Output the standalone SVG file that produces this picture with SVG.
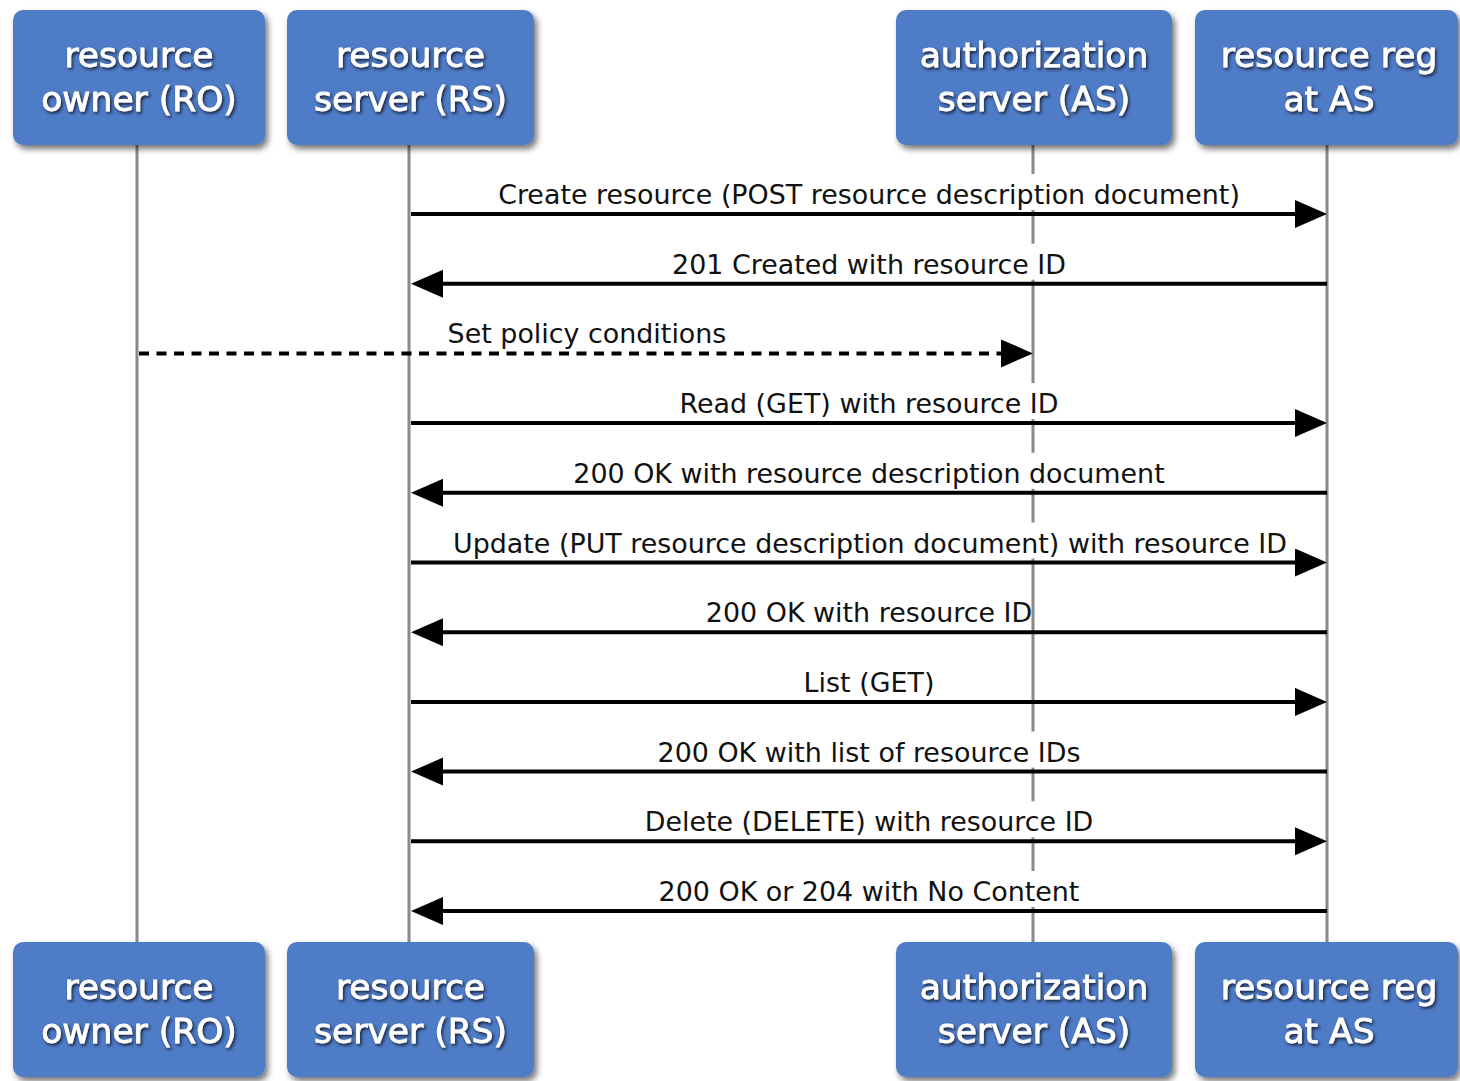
<svg xmlns="http://www.w3.org/2000/svg" width="1460" height="1081" viewBox="0 0 1460 1081">
  <defs>
    <filter id="boxShadow" x="-10%" y="-10%" width="125%" height="135%">
      <feDropShadow dx="3" dy="4" stdDeviation="3" flood-color="#000" flood-opacity="0.55"/>
    </filter>
    <filter id="textShadow" x="-10%" y="-20%" width="120%" height="150%">
      <feDropShadow dx="1.5" dy="2" stdDeviation="1.4" flood-color="#141c30" flood-opacity="0.95"/>
    </filter>
    <marker id="head" markerUnits="userSpaceOnUse" markerWidth="34" markerHeight="30" refX="22" refY="14" orient="auto">
      <path d="M0,0 L32,14 L0,28 Z" fill="#000"/>
    </marker>
    <style>
      .box { fill: #507cc7; filter: url(#boxShadow); }
      .title { font-family: "DejaVu Sans", Verdana, sans-serif; font-size: 34.5px; fill: #fff; stroke: #fff; stroke-width: 0.8; text-anchor: middle; filter: url(#textShadow); }
      .life { stroke: #8a8a8a; stroke-width: 3; }
      .msg { stroke: #000; stroke-width: 4; fill: none; marker-end: url(#head); }
      .dash { stroke-dasharray: 10 7.5; }
      .lblbg { fill: #fff; }
      .lbl { font-family: "DejaVu Sans", Verdana, sans-serif; font-size: 26.9px; fill: #111; text-anchor: middle; }
    </style>
  </defs>

  <rect width="1460" height="1081" fill="#fff"/>

  <!-- lifelines -->
  <g id="lifelines">
    <line class="life" x1="137" y1="145" x2="137" y2="942"/>
    <line class="life" x1="409" y1="145" x2="409" y2="942"/>
    <line class="life" x1="1033" y1="145" x2="1033" y2="942"/>
    <line class="life" x1="1327" y1="145" x2="1327" y2="942"/>
  </g>

  <!-- messages -->
  <g id="connectors">
    <g id="m1">
      <line class="msg" x1="411" y1="214" x2="1317" y2="214"/>
      <rect class="lblbg" x="498" y="174" width="744" height="36"/>
      <text class="lbl" x="869" y="204">Create resource (POST resource description document)</text>
    </g>
    <g id="m2">
      <line class="msg" x1="1327" y1="283.7" x2="421" y2="283.7"/>
      <rect class="lblbg" x="671" y="243.7" width="399" height="36"/>
      <text class="lbl" x="869" y="273.7">201 Created with resource ID</text>
    </g>
    <g id="m3">
      <line class="msg dash" x1="139" y1="353.4" x2="1023" y2="353.4"/>
      <rect class="lblbg" x="448" y="313.4" width="278" height="36"/>
      <text class="lbl" x="587" y="343.4">Set policy conditions</text>
    </g>
    <g id="m4">
      <line class="msg" x1="411" y1="423.1" x2="1317" y2="423.1"/>
      <rect class="lblbg" x="675" y="383.1" width="391" height="36"/>
      <text class="lbl" x="869" y="413.1">Read (GET) with resource ID</text>
    </g>
    <g id="m5">
      <line class="msg" x1="1327" y1="492.8" x2="421" y2="492.8"/>
      <rect class="lblbg" x="575" y="452.8" width="591" height="36"/>
      <text class="lbl" x="869" y="482.8">200 OK with resource description document</text>
    </g>
    <g id="m6">
      <line class="msg" x1="411" y1="562.5" x2="1317" y2="562.5"/>
      <rect class="lblbg" x="450" y="522.5" width="841" height="36"/>
      <text class="lbl" x="870" y="552.5">Update (PUT resource description document) with resource ID</text>
    </g>
    <g id="m7">
      <line class="msg" x1="1327" y1="632.2" x2="421" y2="632.2"/>
      <rect class="lblbg" x="703" y="592.2" width="328" height="36"/>
      <text class="lbl" x="869" y="622.2">200 OK with resource ID</text>
    </g>
    <g id="m8">
      <line class="msg" x1="411" y1="701.9" x2="1317" y2="701.9"/>
      <rect class="lblbg" x="802" y="661.9" width="137" height="36"/>
      <text class="lbl" x="869" y="691.9">List (GET)</text>
    </g>
    <g id="m9">
      <line class="msg" x1="1327" y1="771.6" x2="421" y2="771.6"/>
      <rect class="lblbg" x="655" y="731.6" width="430" height="36"/>
      <text class="lbl" x="869" y="761.6">200 OK with list of resource IDs</text>
    </g>
    <g id="m10">
      <line class="msg" x1="411" y1="841.3" x2="1317" y2="841.3"/>
      <rect class="lblbg" x="643" y="801.3" width="455" height="36"/>
      <text class="lbl" x="869" y="831.3">Delete (DELETE) with resource ID</text>
    </g>
    <g id="m11">
      <line class="msg" x1="1327" y1="911" x2="421" y2="911"/>
      <rect class="lblbg" x="656" y="871" width="428" height="36"/>
      <text class="lbl" x="869" y="901">200 OK or 204 with No Content</text>
    </g>
  </g>

  <!-- participants: heads at top, feet at bottom -->
  <g id="ro">
    <rect class="box" x="13" y="10" width="252" height="135" rx="10"/>
    <text class="title" x="139" y="67">resource</text>
    <text class="title" x="139" y="111">owner (RO)</text>
    <rect class="box" x="13" y="942" width="252" height="135" rx="10"/>
    <text class="title" x="139" y="999">resource</text>
    <text class="title" x="139" y="1043">owner (RO)</text>
  </g>
  <g id="rs">
    <rect class="box" x="287" y="10" width="247" height="135" rx="10"/>
    <text class="title" x="410.5" y="67">resource</text>
    <text class="title" x="410.5" y="111">server (RS)</text>
    <rect class="box" x="287" y="942" width="247" height="135" rx="10"/>
    <text class="title" x="410.5" y="999">resource</text>
    <text class="title" x="410.5" y="1043">server (RS)</text>
  </g>
  <g id="as">
    <rect class="box" x="896" y="10" width="276" height="135" rx="10"/>
    <text class="title" x="1034" y="67">authorization</text>
    <text class="title" x="1034" y="111">server (AS)</text>
    <rect class="box" x="896" y="942" width="276" height="135" rx="10"/>
    <text class="title" x="1034" y="999">authorization</text>
    <text class="title" x="1034" y="1043">server (AS)</text>
  </g>
  <g id="reg">
    <rect class="box" x="1195" y="10" width="263" height="135" rx="10"/>
    <text class="title" x="1329" y="67">resource reg</text>
    <text class="title" x="1329" y="111">at AS</text>
    <rect class="box" x="1195" y="942" width="263" height="135" rx="10"/>
    <text class="title" x="1329" y="999">resource reg</text>
    <text class="title" x="1329" y="1043">at AS</text>
  </g>
</svg>
